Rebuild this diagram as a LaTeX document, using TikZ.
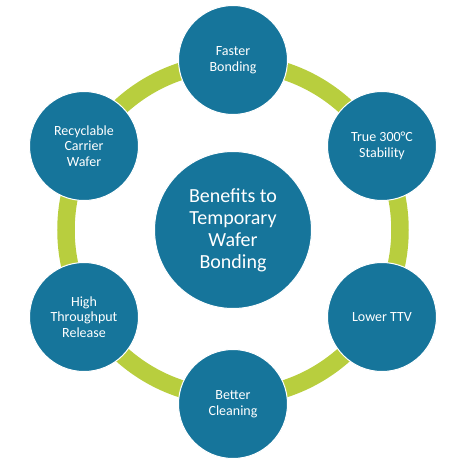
\documentclass[tikz,border=0pt]{standalone}
\usepackage{fontspec}
\setmainfont{Carlito}
\definecolor{hubblue}{HTML}{16759B}
\definecolor{ringgreen}{HTML}{B8CE3E}
\begin{document}
\begin{tikzpicture}[x=1pt,y=-1pt,
  sat/.style={circle,fill=hubblue,draw=white,line width=1pt,minimum size=109pt,inner sep=0pt,
    text=white,align=center,font=\fontsize{14}{15.8}\selectfont},
  hub/.style={circle,fill=hubblue,draw=white,line width=1pt,minimum size=157pt,inner sep=0pt,
    text=white,align=center,font=\fontsize{20}{22}\selectfont}]
\useasboundingbox (0,0) rectangle (472,461);
\coordinate (c) at (233,230);
\draw[ringgreen,line width=17.5pt] (c) circle[radius=167];
\node[hub] (hub) at (c) {Benefits to\\Temporary\\Wafer\\Bonding};
\node[sat] (s1) at (233,60) {Faster\\Bonding};
\node[sat] (s2) at (382,146) {True 300°C\\Stability};
\node[sat] (s3) at (382,317) {Lower TTV};
\node[sat] (s4) at (233,404) {Better\\Cleaning};
\node[sat] (s5) at (84,317) {High\\Throughput\\Release};
\node[sat] (s6) at (84,146) {Recyclable\\Carrier\\Wafer};
\end{tikzpicture}
\end{document}
